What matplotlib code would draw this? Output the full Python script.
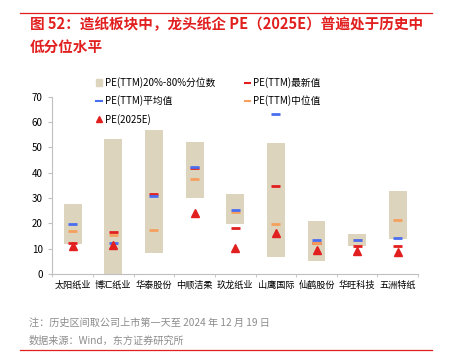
import matplotlib
matplotlib.use("Agg")
import matplotlib.pyplot as plt
import numpy as np
from matplotlib.patches import Patch
from matplotlib.lines import Line2D

plt.rcParams['font.family'] = ['Noto Sans CJK SC', 'DejaVu Sans']

categories = ["太阳纸业", "博汇纸业", "华泰股份", "中顺洁柔", "玖龙纸业", "山鹰国际", "仙鹤股份", "华旺科技", "五洲特纸"]
p20 = [11.7, 0.0, 8.2, 29.9, 19.6, 6.7, 5.0, 11.2, 13.7]
p80 = [27.6, 53.2, 57.0, 52.0, 31.4, 51.7, 20.9, 15.7, 32.9]
latest = [12.1, 16.4, 31.4, 41.8, 18.3, 34.7, 12.1, 11.2, 11.1]
mean = [19.6, 12.2, 30.9, 42.2, 25.4, 63.3, 13.3, 13.5, 14.2]
median = [17.1, 15.5, 17.4, 37.5, 24.6, 19.7, 12.1, 13.4, 21.3]
pe2025 = [11.0, 11.4, np.nan, 24.0, 10.4, 16.3, 9.6, 9.0, 8.6]

BOX = "#DDD4BD"
RED = "#E21F1F"
BLUE = "#4A6EF0"
ORANGE = "#F5A05F"

fig = plt.figure(figsize=(4.55, 3.53), dpi=100)
ax = fig.add_axes([0.115, 0.224, 0.804, 0.502])

x = np.arange(len(categories))
ax.bar(x, np.array(p80) - np.array(p20), bottom=p20, width=0.44, color=BOX, zorder=1)
hw = 0.11
ax.hlines(latest, x - hw, x + hw, color=RED, lw=2, zorder=3)
ax.hlines(median, x - hw, x + hw, color=ORANGE, lw=2, zorder=3)
ax.hlines(mean, x - hw, x + hw, color=BLUE, lw=2, zorder=3)
ax.plot(x, pe2025, ls='none', marker='^', color=RED, ms=6, zorder=4)

ax.set_ylim(0, 70)
ax.set_xlim(-0.5, len(categories) - 0.5)
ax.set_yticks(range(0, 71, 10))
ax.set_xticks(x)
ax.set_xticklabels(categories, fontsize=6.6)
ax.set_xticks(np.arange(-0.5, len(categories), 1), minor=True)
ax.tick_params(axis='x', which='major', length=0, pad=5)
ax.tick_params(axis='x', which='minor', length=2.5, color="#BFBFBF")
ax.tick_params(axis='y', length=3, color="#BFBFBF", labelsize=7, pad=4)
for s in ['top', 'right']:
    ax.spines[s].set_visible(False)
for s in ['left', 'bottom']:
    ax.spines[s].set_color("#BFBFBF")
    ax.spines[s].set_linewidth(0.8)

handles = [
    Patch(color=BOX, label="PE(TTM)20%-80%分位数"),
    Line2D([], [], color=BLUE, lw=1.5, label="PE(TTM)平均值"),
    Line2D([], [], color=RED, marker='^', ls='none', ms=5, label="PE(2025E)"),
    Line2D([], [], color=RED, lw=1.5, label="PE(TTM)最新值"),
    Line2D([], [], color=ORANGE, lw=1.5, label="PE(TTM)中位值"),
]
fig.legend(handles=handles, ncol=2, loc='upper left', bbox_to_anchor=(0.203, 0.792),
           frameon=False, fontsize=7, handlelength=0.6, handletextpad=0.3,
           columnspacing=3.0, labelspacing=0.75, borderaxespad=0)

# title & decorations
fig.add_artist(Line2D([20/455, 432/455], [1 - 13.3/353] * 2, color=RED, lw=0.9))
fig.text(30/455, 1 - 24/353, "图 52：造纸板块中，龙头纸企 PE（2025E）普遍处于历史中",
         color=RED, fontsize=10.5, fontweight='bold', va='center', ha='left')
fig.text(30/455, 1 - 47/353, "低分位水平", color=RED, fontsize=10.5,
         fontweight='bold', va='center', ha='left')
fig.text(29/455, 1 - 323/353, "注：历史区间取公司上市第一天至 2024 年 12 月 19 日",
         color="#8C8C8C", fontsize=7.3, va='center', ha='left')
fig.text(29/455, 1 - 341/353, "数据来源：Wind，东方证券研究所",
         color="#8C8C8C", fontsize=7.3, va='center', ha='left')
fig.add_artist(Line2D([20/455, 432/455], [1 - 350/353] * 2, color=RED, lw=0.9))

fig.savefig("out.png", dpi=100)
